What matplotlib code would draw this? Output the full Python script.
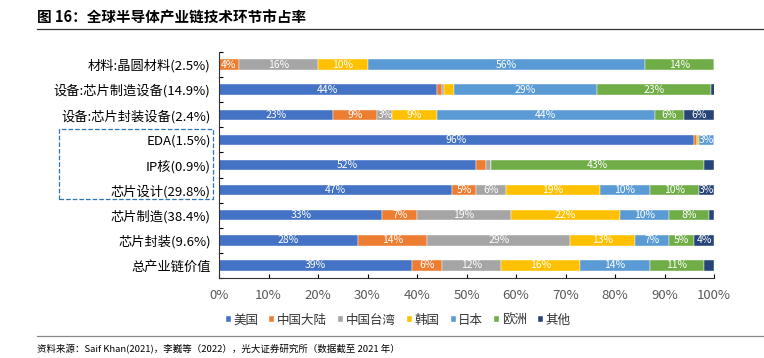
import numpy as np
import matplotlib
matplotlib.use("Agg")
import matplotlib.pyplot as plt
from matplotlib.patches import Rectangle

plt.rcParams['font.family'] = ['Noto Sans CJK SC', 'DejaVu Sans']

categories = ['材料:晶圆材料(2.5%)', '设备:芯片制造设备(14.9%)', '设备:芯片封装设备(2.4%)',
              'EDA(1.5%)', 'IP核(0.9%)', '芯片设计(29.8%)', '芯片制造(38.4%)',
              '芯片封装(9.6%)', '总产业链价值']
regions = ['美国', '中国大陆', '中国台湾', '韩国', '日本', '欧洲', '其他']
colors = ['#4472C4', '#ED7D31', '#A5A5A5', '#FFC000', '#5B9BD5', '#70AD47', '#264478']

us = [0, 44, 23, 96, 52, 47, 33, 28, 39]
cn = [4, 1, 9, 0.6, 2, 5, 7, 14, 6]
tw = [16, 0.4, 3, 0, 1, 6, 19, 29, 12]
kr = [10, 2, 9, 0.4, 0, 19, 22, 13, 16]
jp = [56, 29, 44, 3, 0, 10, 10, 7, 14]
eu = [14, 23, 6, 0, 43, 10, 8, 5, 11]
other = [0, 1, 6, 0, 2, 3, 1, 4, 2]
series = [us, cn, tw, kr, jp, eu, other]

fig = plt.figure(figsize=(7.64, 3.58), dpi=100)
ax = fig.add_axes([219/764, 1-278/358, 495/764, 226/358])

y = np.arange(len(categories))
left = np.zeros(len(categories))
for name, vals, c in zip(regions, series, colors):
    vals = np.array(vals, dtype=float)
    ax.barh(y, vals, left=left, height=0.42, color=c, label=name,
            edgecolor='white', linewidth=0.3)
    for yi, l, v in zip(y, left, vals):
        if v >= 3:
            ax.text(l + v/2, yi, f'{v:.0f}%', ha='center', va='center',
                    color='white', fontsize=7.5)
    left += vals

ax.set_xlim(0, 100)
ax.set_ylim(len(categories) - 0.5, -0.5)
ax.set_yticks(y)
ax.set_yticklabels(categories, fontsize=9.5)
ax.set_yticks(np.arange(-0.5, len(categories)), minor=True)
ax.tick_params(axis='y', which='major', length=0, pad=6)
ax.tick_params(axis='y', which='minor', direction='in', length=3, width=0.8)
ax.set_xticks(np.arange(0, 101, 10))
ax.set_xticklabels([f'{v}%' for v in range(0, 101, 10)], fontsize=9.5, color='#595959')
ax.tick_params(axis='x', direction='in', length=3, width=0.8, pad=8)
for s in ['top', 'right']:
    ax.spines[s].set_visible(False)
for s in ['left', 'bottom']:
    ax.spines[s].set_color('#333333')
    ax.spines[s].set_linewidth(0.8)

leg = ax.legend(loc='center', bbox_to_anchor=(0.362, -0.186), ncol=7, frameon=False,
                fontsize=9, handlelength=0.4, handleheight=0.4, handletextpad=0.2,
                columnspacing=0.9)
for t in leg.get_texts():
    t.set_color('#333333')

# dashed box around the design group
fig.patches.append(Rectangle((59/764, 1-199/358), 154/764, 70/358, transform=fig.transFigure,
                             fill=False, edgecolor='#2E75B6', linestyle='--', linewidth=0.9))

fig.text(37/764, 1-17/358, '图 16：全球半导体产业链技术环节市占率', fontsize=10.5,
         fontweight='bold', va='center', ha='left')
fig.add_artist(plt.Line2D([37/764, 1], [1-29/358, 1-29/358], color='#333333', linewidth=0.9))
fig.add_artist(plt.Line2D([37/764, 1], [1-336/358, 1-336/358], color='#888888', linewidth=0.9))
fig.text(37/764, 1-349/358, '资料来源：Saif Khan(2021)，李巍等（2022），光大证券研究所（数据截至 2021 年）',
         fontsize=6.8, va='center', ha='left')

fig.savefig('out.png', dpi=100)
